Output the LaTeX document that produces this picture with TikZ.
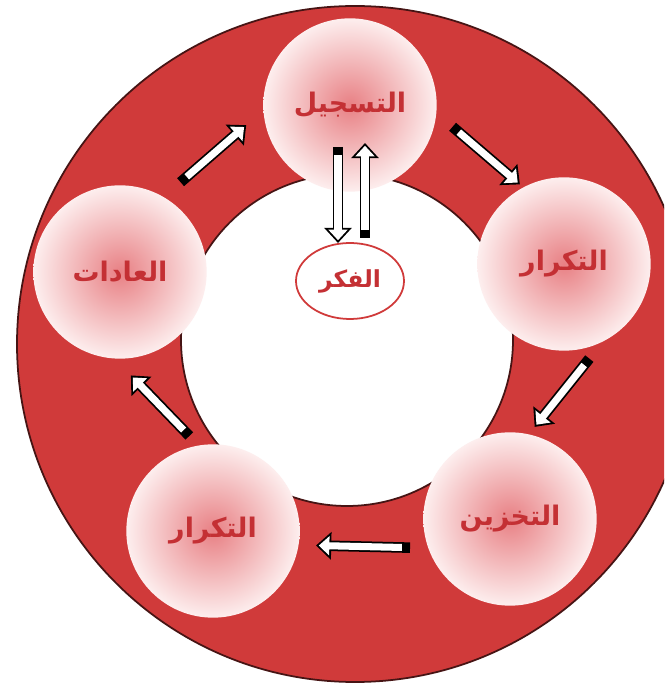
\documentclass[tikz,border=0pt]{standalone}
\usepackage{fontspec}
\usetikzlibrary{arrows.meta,calc,shapes.geometric}
\TeXXeTstate=1
\newfontfamily\arabicfont[Script=Arabic]{DejaVu Sans}
\definecolor{ringred}{RGB}{208,58,58}
\definecolor{ringline}{RGB}{70,20,20}
\definecolor{textred}{RGB}{196,48,52}
\definecolor{pinkmid}{RGB}{232,128,132}
\definecolor{pinkedge}{RGB}{253,238,238}
\newcommand{\ar}[1]{\raisebox{-4pt}{\arabicfont\bfseries\beginR #1\endR}}
\begin{document}
\begin{tikzpicture}[x=0.03cm,y=0.03cm,
  stage/.style={circle,minimum size=5.2cm,inner sep=0pt,outer sep=0pt,
    shading=radial,inner color=pinkmid,outer color=pinkedge,
    text=textred,font=\fontsize{23}{26}\selectfont},
  blockarrow/.style={draw=black,line width=9pt,-{Triangle[length=13pt,width=23pt]},
    postaction={draw=white,line width=6pt,shorten <=7pt,shorten >=2.4pt,
      -{Triangle[length=9pt,width=16pt]}}}]
\clip (0,0) rectangle (664,693);
\fill[white] (0,0) rectangle (664,693);
% ring and inner disc
\filldraw[fill=ringred,draw=ringline,line width=1.5pt] (355,349) circle (338);
\filldraw[fill=white,draw=ringline,line width=1.5pt] (347,353) circle (166);
% the five stages
\node[stage] (reg) at (350,588) {\ar{التسجيل}};
\node[stage] (rep1) at (564,429) {\ar{التكرار}};
\node[stage] (store) at (510,174) {\ar{التخزين}};
\node[stage] (rep2) at (213,162) {\ar{التكرار}};
\node[stage] (habits) at (120,421) {\ar{العادات}};
\node[ellipse,draw=ringred,line width=1.5pt,fill=white,minimum width=3.24cm,minimum height=2.28cm,
  inner sep=0pt,outer sep=0pt,text=textred,font=\fontsize{20}{23}\selectfont] (thought) at (350,412) {\ar{الفكر}};
% arrows round the ring
\draw[blockarrow] ($(reg.center)!1.21!(reg.-12.6)$) -- ($(rep1.center)!1.05!(rep1.119)$);
\draw[blockarrow] ($(rep1.center)!1.13!(rep1.-75.7)$) -- ($(store.center)!1.10!(store.75)$);
\draw[blockarrow] ($(store.center)!1.2!(store.196)$) -- ($(rep2.center)!1.2!(rep2.-8.7)$);
\draw[blockarrow] ($(rep2.center)!1.13!(rep2.104.6)$) -- ($(habits.center)!1.2!(habits.-84.6)$);
\draw[blockarrow] ($(habits.center)!1.25!(habits.56.5)$) -- ($(reg.center)!1.22!(reg.191.4)$);
% arrows to and from the centre
\draw[blockarrow] ($(reg.center)+(-12,-42)$) -- ($(thought.north)+(-12,0)$);
\draw[blockarrow] ($(thought.north)+(15,5)$) -- ($(reg.center)+(15,-38)$);
\end{tikzpicture}
\end{document}
